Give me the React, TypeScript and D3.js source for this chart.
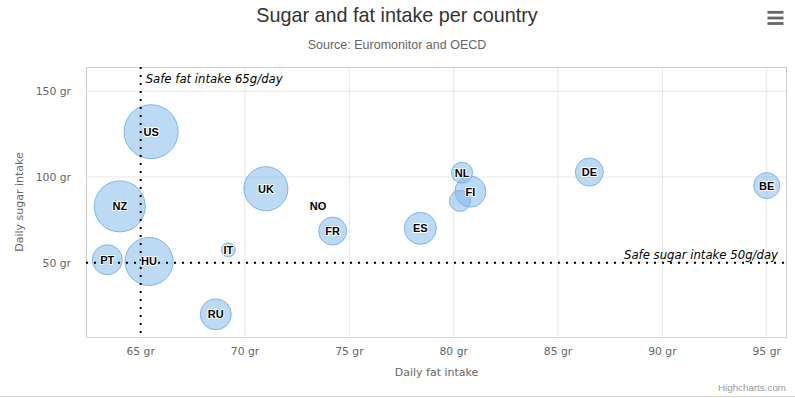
import React from "react";
import * as d3 from "d3";

const names = ["BE", "DE", "FI", "NL", "SE", "ES", "FR", "NO", "UK", "IT", "RU", "US", "HU", "PT", "NZ"];
const fat = [95, 86.5, 80.8, 80.4, 80.3, 78.4, 74.2, 73.5, 71, 69.2, 68.6, 65.5, 65.4, 63.4, 64];
const sugar = [95, 102.9, 91.5, 102.5, 86.1, 70.1, 68.5, 83.1, 93.2, 57.6, 20, 126.4, 50.8, 51.8, 82.9];
const obesity = [13.8, 14.7, 15.8, 12, 11.8, 16.6, 14.5, 10, 24.7, 10.4, 16, 35.3, 28.5, 15.4, 31.3];
const hiddenLabels = ["SE"];
const xTicks = [65, 70, 75, 80, 85, 90, 95];
const yTicks = [50, 100, 150];
const fatLimit = 65;
const sugarLimit = 50;

const W = 795, H = 398;
const plot = { left: 86, top: 67, right: 787, bottom: 337 };
const FONT = '"Liberation Sans", Arial, Helvetica, sans-serif';
const WIDE = '"DejaVu Sans", Verdana, sans-serif';

export default function App() {
  const x = d3.scaleLinear().domain([62.38, 95.97]).range([plot.left, plot.right]);
  const y = d3.scaleLinear().domain([6.8, 164.1]).range([plot.bottom, plot.top]);
  const zMin = d3.min(obesity)!, zMax = d3.max(obesity)!;
  const minSize = 8, maxSize = 54;
  const radius = (z: number) => {
    const pos = Math.sqrt((z - zMin) / (zMax - zMin));
    return Math.ceil(minSize + pos * (maxSize - minSize)) / 2;
  };
  const pts = names.map((n, i) => ({ n, x: x(fat[i]), y: y(sugar[i]), r: radius(obesity[i]) }));

  return (
    <svg width={W} height={H} style={{ position: "absolute", left: 0, top: 0, fontFamily: FONT }}>
      <rect x={0} y={0} width={W} height={H} fill="#fff" />
      <text x={397} y={22} textAnchor="middle" fontSize={19.8} fill="#333">Sugar and fat intake per country</text>
      <text x={397} y={49} textAnchor="middle" fontSize={12.5} fill="#666">Source: Euromonitor and OECD</text>
      {[12.3, 18, 23.5].map((yy) => (
        <rect key={yy} x={767.5} y={yy - 1.4} width={16} height={2.8} fill="#666" />
      ))}
      {/* grid */}
      {xTicks.map((t) => (
        <line key={"gx" + t} x1={x(t)} x2={x(t)} y1={plot.top} y2={plot.bottom} stroke="#e6e6e6" />
      ))}
      {yTicks.map((t) => (
        <line key={"gy" + t} x1={plot.left} x2={plot.right} y1={y(t)} y2={y(t)} stroke="#e6e6e6" />
      ))}
      <rect x={plot.left + 0.5} y={plot.top + 0.5} width={plot.right - plot.left - 1} height={plot.bottom - plot.top} fill="none" stroke="#cccccc" />
      <line x1={plot.left} x2={plot.right} y1={plot.bottom + 0.5} y2={plot.bottom + 0.5} stroke="#ccd6eb" />
      {/* tick labels */}
      {xTicks.map((t) => (
        <text key={"lx" + t} x={x(t)} y={355} textAnchor="middle" fontSize={10.8} fill="#666" fontFamily={WIDE}>{t} gr</text>
      ))}
      {yTicks.map((t) => (
        <text key={"ly" + t} x={71} y={y(t) + 4} textAnchor="end" fontSize={10.8} fill="#666" fontFamily={WIDE}>{t} gr</text>
      ))}
      <text x={(plot.left + plot.right) / 2} y={376} textAnchor="middle" fontSize={11} fill="#666" fontFamily={WIDE}>Daily fat intake</text>
      <text transform={`translate(23,${(plot.top + plot.bottom) / 2}) rotate(-90)`} textAnchor="middle" fontSize={11} fill="#666" fontFamily={WIDE}>Daily sugar intake</text>
      {/* bubbles */}
      {pts.map((p) => (
        <circle key={p.n} cx={p.x} cy={p.y} r={p.r} fill="rgba(124,181,236,0.5)" stroke="#7cb5ec" strokeWidth={1} />
      ))}
      {/* plot lines */}
      <line x1={x(fatLimit)} x2={x(fatLimit)} y1={plot.top} y2={plot.bottom} stroke="#000" strokeWidth={2} strokeDasharray="2,6" />
      <line x1={plot.left} x2={plot.right} y1={y(sugarLimit)} y2={y(sugarLimit)} stroke="#000" strokeWidth={2} strokeDasharray="2,6" />
      <text x={x(fatLimit) + 5} y={83} fontSize={11.7} fontStyle="italic" fill="#000" fontFamily={WIDE}>Safe fat intake 65g/day</text>
      <text x={plot.right - 9} y={y(sugarLimit) - 4} textAnchor="end" fontSize={11.7} fontStyle="italic" fill="#000" fontFamily={WIDE}>Safe sugar intake 50g/day</text>
      {/* labels */}
      {pts.filter((p) => !hiddenLabels.includes(p.n)).map((p) => (
        <text key={"t" + p.n} x={p.x} y={p.y + 4} textAnchor="middle" fontSize={11} fontWeight="bold" fill="#000"
          stroke="#fff" strokeWidth={2} paintOrder="stroke" strokeLinejoin="round">{p.n}</text>
      ))}
      <text x={786} y={391} textAnchor="end" fontSize={9.8} fill="#999">Highcharts.com</text>
      <line x1={0} x2={W} y1={396.5} y2={396.5} stroke="#d8d8d8" />
    </svg>
  );
}
